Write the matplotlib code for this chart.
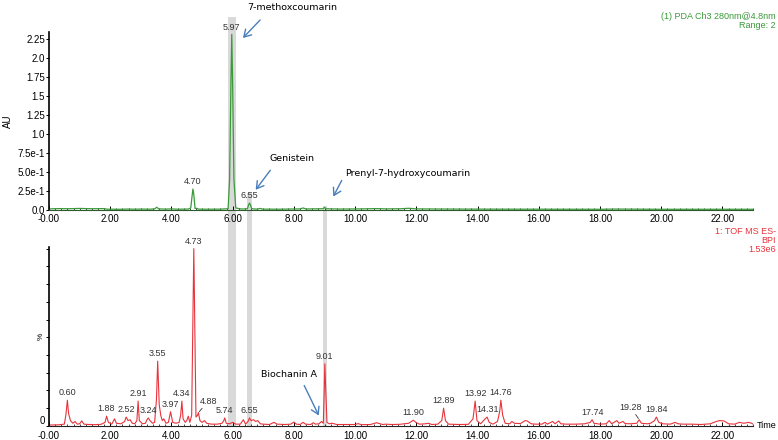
import numpy as np
import matplotlib
matplotlib.use("Agg")
import matplotlib.pyplot as plt
from matplotlib.patches import Rectangle, FancyArrowPatch
from matplotlib.transforms import blended_transform_factory
from matplotlib.ticker import MultipleLocator, FixedLocator

# PDA trace (AU)
pda_t = [0.00, 0.30, 0.60, 1.00, 1.40, 1.80, 1.90, 2.30, 2.60, 2.80, 3.00, 3.30, 3.45, 3.52, 3.58,
         3.80, 4.00, 4.20, 4.55, 4.63, 4.68, 4.70, 4.73, 4.77, 4.83, 4.88, 5.20, 5.60, 5.85, 5.90,
         5.94, 5.97, 6.00, 6.04, 6.10, 6.30, 6.48, 6.52, 6.55, 6.58, 6.62, 6.80, 6.90, 6.98, 7.50,
         8.20, 8.30, 8.40, 8.95, 9.00, 9.05, 9.50, 10.20, 10.70, 11.00, 11.50, 11.75, 12.00, 13.00,
         14.00, 16.00, 18.00, 18.50, 20.00, 23.00]
pda_y = [0.008, 0.012, 0.010, 0.014, 0.010, 0.012, 0.004, 0.003, 0.006, 0.004, 0.006, 0.004, 0.008, 0.030, 0.008,
         0.005, 0.008, 0.004, 0.006, 0.020, 0.200, 0.270, 0.200, 0.015, 0.015, 0.005, 0.004, 0.005, 0.010, 0.400,
         1.600, 2.310, 1.600, 0.400, 0.020, 0.006, 0.010, 0.060, 0.085, 0.060, 0.010, 0.005, 0.014, 0.005, 0.004,
         0.008, 0.020, 0.007, 0.010, 0.028, 0.010, 0.006, 0.008, 0.012, 0.008, 0.010, 0.016, 0.008, 0.006,
         0.005, 0.004, 0.003, 0.006, 0.003, 0.003]
pda_labels = [4.70, 5.97, 6.55]
pda_label_y = [0.27, 2.31, 0.085]

# TOF MS BPI trace (%)
ms_t = [0.00, 0.30, 0.50, 0.55, 0.60, 0.64, 0.70, 0.78, 0.85, 0.92, 1.00, 1.07, 1.14, 1.30, 1.50,
        1.70, 1.83, 1.88, 1.94, 2.05, 2.14, 2.20, 2.35, 2.47, 2.52, 2.58, 2.65, 2.72, 2.80, 2.87,
        2.91, 2.95, 3.05, 3.15, 3.20, 3.24, 3.30, 3.38, 3.45, 3.51, 3.55, 3.60, 3.65, 3.70, 3.75,
        3.82, 3.90, 3.97, 4.04, 4.15, 4.25, 4.30, 4.34, 4.38, 4.45, 4.50, 4.55, 4.60, 4.66, 4.70,
        4.73, 4.76, 4.80, 4.85, 4.88, 4.93, 5.00, 5.08, 5.15, 5.30, 5.50, 5.65, 5.71, 5.74, 5.79,
        5.90, 6.00, 6.10, 6.25, 6.35, 6.42, 6.50, 6.55, 6.60, 6.68, 6.75, 6.82, 6.90, 7.00, 7.20,
        7.35, 7.45, 7.70, 7.90, 8.00, 8.08, 8.20, 8.30, 8.38, 8.55, 8.63, 8.70, 8.82, 8.90, 8.96,
        8.99, 9.01, 9.04, 9.08, 9.15, 9.25, 9.40, 10.00, 10.10, 10.20, 10.50, 10.70, 10.80, 10.90, 11.00,
        11.20, 11.45, 11.60, 11.75, 11.90, 12.00, 12.10, 12.30, 12.40, 12.50, 12.70, 12.83, 12.89, 12.95, 13.05,
        13.40, 13.70, 13.85, 13.92, 13.98, 14.10, 14.22, 14.31, 14.38, 14.50, 14.65, 14.72, 14.76, 14.82, 14.90,
        15.05, 15.12, 15.20, 15.40, 15.55, 15.62, 15.75, 15.90, 16.10, 16.20, 16.28, 16.45, 16.53, 16.65, 16.72,
        16.90, 17.20, 17.50, 17.68, 17.74, 17.80, 18.00, 18.20, 18.30, 18.38, 18.55, 18.62, 18.75, 18.82, 19.00,
        19.20, 19.28, 19.35, 19.55, 19.65, 19.78, 19.84, 19.92, 20.05, 20.30, 20.45, 20.55, 20.70, 21.00, 21.30,
        21.60, 21.75, 21.90, 22.05, 22.20, 22.40, 22.55, 22.70, 22.85, 22.95, 23.00]
ms_y = [0.5, 0.6, 1.0, 6.0, 14.5, 7.0, 3.0, 1.5, 2.5, 1.0, 1.2, 2.8, 1.0, 0.8, 0.7,
        0.9, 2.0, 5.5, 2.0, 1.0, 4.0, 1.5, 1.2, 2.5, 5.0, 3.0, 3.5, 1.5, 1.2, 3.0,
        14.0, 3.0, 1.2, 1.5, 3.5, 4.5, 3.0, 1.5, 2.0, 15.0, 36.5, 12.0, 6.0, 3.0, 4.0,
        1.5, 2.0, 8.0, 2.0, 1.5, 2.0, 6.0, 14.0, 4.0, 2.0, 3.0, 5.5, 2.0, 6.0, 60.0,
        100.0, 60.0, 5.0, 6.0, 7.5, 3.0, 2.0, 3.0, 1.5, 1.0, 1.0, 1.5, 3.0, 4.5, 1.5,
        1.2, 2.0, 1.0, 1.0, 3.5, 1.0, 2.5, 4.5, 3.0, 3.5, 2.5, 3.0, 1.2, 1.0, 0.8,
        2.0, 1.0, 0.8, 1.0, 2.2, 1.0, 0.8, 2.0, 1.0, 0.8, 1.8, 1.0, 1.2, 2.5, 1.5,
        20.0, 35.0, 20.0, 2.0, 1.2, 1.5, 0.8, 0.8, 1.3, 0.7, 0.8, 1.8, 1.3, 0.8, 1.0,
        0.8, 0.9, 1.2, 1.5, 3.2, 1.8, 1.0, 1.2, 1.5, 0.8, 1.0, 3.0, 10.0, 3.0, 1.0,
        0.8, 0.9, 4.0, 14.0, 3.0, 1.2, 3.5, 5.0, 2.0, 1.0, 2.5, 8.0, 14.5, 6.0, 1.5,
        1.2, 2.5, 1.5, 1.3, 3.0, 2.8, 1.2, 1.0, 1.0, 2.0, 1.0, 2.5, 1.2, 2.8, 1.2,
        1.0, 1.0, 1.2, 2.0, 3.5, 1.5, 1.0, 1.2, 3.0, 1.2, 3.0, 1.5, 2.5, 1.3, 1.2,
        1.5, 3.5, 1.5, 1.2, 1.5, 3.0, 5.0, 2.0, 1.2, 1.0, 2.0, 1.2, 1.0, 1.0, 0.8,
        1.2, 2.2, 3.0, 2.8, 1.2, 1.0, 2.0, 1.5, 2.0, 1.5, 1.0]
ms_labels = [0.60, 1.88, 2.52, 2.91, 3.24, 3.55, 3.97, 4.34, 4.73, 5.74, 6.55, 9.01,
             11.90, 12.89, 13.92, 14.31, 14.76, 17.74, 19.84]
ms_label_y = [14.5, 5.5, 5.0, 14.0, 4.5, 36.5, 8.0, 14.0, 100.0, 4.5, 4.5, 35.0,
              3.2, 10.0, 14.0, 5.0, 14.5, 3.5, 5.0]

# grey highlight bands (start, end of retention time)
band_t0 = [5.85, 6.47, 8.95]
band_t1 = [6.11, 6.63, 9.08]
band_top = [0.961, 0.561, 0.532]

green = "#3a9a3a"
red = "#e8333c"
arrow_col = "#4a7ebb"
lab_font = "Liberation Sans"

fig = plt.figure(figsize=(7.78, 4.40), dpi=100)
ax1 = fig.add_axes([0.063, 0.523, 0.905, 0.404])
ax2 = fig.add_axes([0.063, 0.032, 0.905, 0.407])

for ax in (ax1, ax2):
    ax.set_facecolor("none")
    ax.set_xlim(0, 23.0)
    for s in ("top", "right"):
        ax.spines[s].set_visible(False)
    ax.spines["left"].set_linewidth(1.2)
    ax.xaxis.set_major_locator(MultipleLocator(2))
    ax.xaxis.set_minor_locator(MultipleLocator(0.2))
    ax.set_xticklabels([("-0.00" if v == 0 else "%.2f" % v) for v in ax.get_xticks()])
    ax.tick_params(axis="x", which="major", direction="in", length=3, width=0.7,
                   labelsize=7, pad=3)
    ax.tick_params(axis="x", which="minor", direction="in", length=1.5, width=0.5)
    ax.tick_params(axis="y", which="both", direction="out", length=2, width=0.7,
                   labelsize=7, pad=1)
    for lbl in ax.get_xticklabels() + ax.get_yticklabels():
        lbl.set_fontfamily(lab_font)

# bands span both panels
tr = blended_transform_factory(ax2.transData, fig.transFigure)
for a, b, top in zip(band_t0, band_t1, band_top):
    fig.add_artist(Rectangle((a, 0.032), b - a, top - 0.032, transform=tr,
                             facecolor="#d9d9d9", edgecolor="none", zorder=-1))

# top panel: PDA
ax1.plot(pda_t, pda_y, color=green, lw=0.9)
ax1.set_ylim(-0.005, 2.34)
yt = [0, 0.25, 0.5, 0.75, 1.0, 1.25, 1.5, 1.75, 2.0, 2.25]
ax1.yaxis.set_major_locator(FixedLocator(yt))
ax1.set_yticklabels(["0.0", "2.5e-1", "5.0e-1", "7.5e-1", "1.0", "1.25", "1.5", "1.75", "2.0", "2.25"],
                    fontfamily=lab_font)
ax1.spines["bottom"].set_color("#2e5a2e")
ax1.set_ylabel("AU", fontsize=7, fontfamily=lab_font)
ax1.yaxis.set_label_coords(-0.051, 0.5)
for t, y in zip(pda_labels, pda_label_y):
    ax1.annotate("%.2f" % t, (t, y), xytext=(0, 2), textcoords="offset points",
                 ha="center", va="bottom", fontsize=6.5, fontfamily=lab_font, color="#333333")
fig.text(0.997, 0.963, "(1) PDA Ch3 280nm@4.8nm", ha="right", va="center",
         fontsize=6.5, color=green, fontfamily=lab_font)
fig.text(0.997, 0.941, "Range: 2", ha="right", va="center",
         fontsize=6.5, color=green, fontfamily=lab_font)

# bottom panel: TOF MS BPI
ax2.plot(ms_t, ms_y, color=red, lw=0.8)
ax2.set_ylim(0, 101)
ax2.yaxis.set_major_locator(FixedLocator([0]))
ax2.yaxis.set_minor_locator(MultipleLocator(10))
ax2.set_yticklabels(["0"], fontfamily=lab_font)
ax2.get_yticklabels()[0].set_verticalalignment("bottom")
ax2.tick_params(axis="y", which="minor", length=2)
ax2.tick_params(axis="x", which="major", pad=4)
ax2.spines["bottom"].set_color("#222222")
ax2.text(-0.006, 0.5, "%", transform=ax2.transAxes, rotation=90, ha="right", va="center",
         fontsize=6, fontfamily=lab_font)
for t, y in zip(ms_labels, ms_label_y):
    ax2.annotate("%.2f" % t, (t, y), xytext=(0, 2), textcoords="offset points",
                 ha="center", va="bottom", fontsize=6.5, fontfamily=lab_font, color="#333333")
ax2.annotate("4.88", (4.88, 7.5), xytext=(4.92, 11.5), ha="left", va="bottom",
             fontsize=6.5, fontfamily=lab_font, color="#333333",
             arrowprops=dict(arrowstyle="-", lw=0.6, color="#333333", shrinkA=0, shrinkB=1))
ax2.annotate("19.28", (19.28, 3.5), xytext=(19.0, 8.0), ha="center", va="bottom",
             fontsize=6.5, fontfamily=lab_font, color="#333333",
             arrowprops=dict(arrowstyle="-", lw=0.6, color="#333333", shrinkA=0, shrinkB=1))
ax2.text(23.12, 0, "Time", ha="left", va="center", fontsize=6.5, fontfamily=lab_font)
fig.text(0.997, 0.475, "1: TOF MS ES-", ha="right", va="center", fontsize=6.5,
         color=red, fontfamily=lab_font)
fig.text(0.997, 0.454, "BPI", ha="right", va="center", fontsize=6.5,
         color=red, fontfamily=lab_font)
fig.text(0.997, 0.432, "1.53e6", ha="right", va="center", fontsize=6.5,
         color=red, fontfamily=lab_font)

# compound names with arrows (pixel positions of the original figure)
def px(x, y):
    return (x / 778.0, 1 - y / 440.0)

arrows = [
    ("7-methoxcoumarin", (292, 7), (262, 18), (241, 40)),
    ("Genistein", (292, 158), (272, 168), (254, 192)),
    ("Prenyl-7-hydroxycoumarin", (408, 173), (343, 178), (332, 199)),
    ("Biochanin A", (289, 374), (303, 383), (320, 418)),
]
for name, tpos, tail, head in arrows:
    fig.text(*px(*tpos), name, ha="center", va="center", fontsize=6.8, color="black")
    fig.add_artist(FancyArrowPatch(
        px(*tail), px(*head), transform=fig.transFigure, arrowstyle="->,head_length=5,head_width=3",
        color=arrow_col, lw=1.0))

fig.savefig("out.png", dpi=100)
